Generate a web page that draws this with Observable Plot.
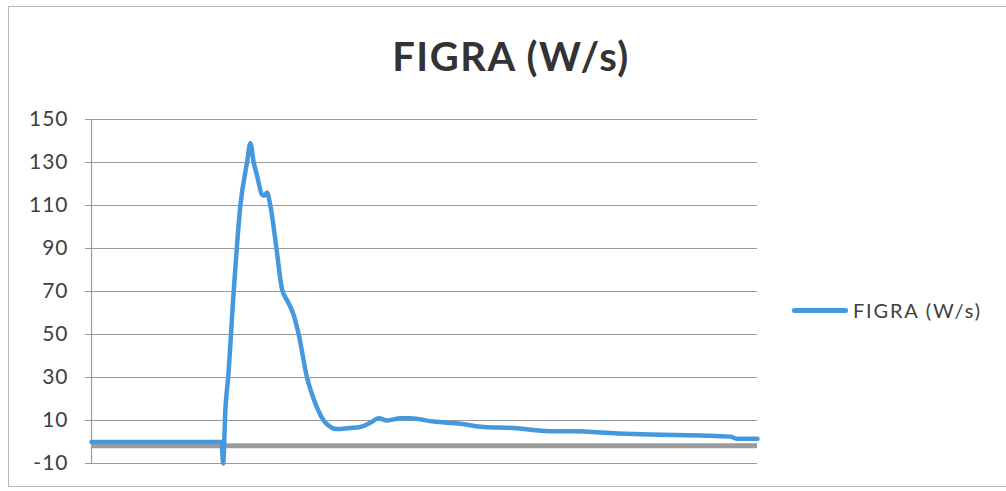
<!DOCTYPE html>
<html><head><meta charset="utf-8">
<script src="https://cdn.jsdelivr.net/npm/d3@7"></script>
<script src="https://cdn.jsdelivr.net/npm/@observablehq/plot@0.6"></script>
<style>
html,body{margin:0;padding:0;background:#fff;}
#wrap{position:relative;width:1006px;height:491px;overflow:hidden;}
#frame{position:absolute;left:8px;top:6px;width:1010px;height:481px;border:1.5px solid #b8b8b8;box-sizing:border-box;}
#title{position:absolute;left:0;top:32px;width:1022px;text-align:center;font-family:Lato,"Open Sans",sans-serif;font-weight:bold;font-size:40px;letter-spacing:1.5px;color:#333;}
#legend{position:absolute;left:792px;top:298px;font-family:Lato,"Open Sans",sans-serif;font-size:20px;letter-spacing:1.8px;color:#404040;display:flex;align-items:center;}
#legend .sw{width:56px;height:5px;background:#4499de;margin-right:5px;border-radius:2px;}
#chart{position:absolute;left:0;top:0;}
#chart svg g[aria-label="y-axis tick label"] text{letter-spacing:1px;}
</style></head>
<body><div id="wrap"><div id="frame"></div><div id="title">FIGRA (W/s)</div><div id="chart"></div>
<div id="legend"><span class="sw"></span><span>FIGRA (W/s)</span></div></div>
<script>
// time (s) and FIGRA (W/s) values
const time = [0, 234, 237, 241, 246, 256, 268, 280, 286, 292, 298, 307, 311, 316, 322, 333, 343, 354, 364, 373, 388, 400, 418, 430, 440, 464, 484, 502, 517, 532, 556, 574, 616, 664, 706, 760, 826, 868, 947, 1006, 1096, 1150, 1163, 1199];
const figra = [0, 0, -10, 15, 30, 70, 110, 130, 139, 130, 124, 115, 114.5, 116, 110, 90, 71, 65, 59, 50, 30, 20, 10, 7, 6, 6.5, 7, 9, 11, 10, 11, 11, 9.5, 8.5, 7, 6.5, 5, 5, 4, 3.5, 3, 2.5, 1.5, 1.5];
const yTicks = [-10, 10, 30, 50, 70, 90, 110, 130, 150];
const baselineValue = -1.8;
const timeDomain = [0, 1199];

const data = time.map((t, i) => ({t, v: figra[i]}));

const chart = Plot.plot({
  width: 1006, height: 491,
  marginLeft: 91, marginRight: 249, marginTop: 119, marginBottom: 28,
  style: {fontFamily: "Lato, 'Open Sans', sans-serif", fontSize: "21px", color: "#404040", background: "transparent"},
  x: {domain: timeDomain, axis: null},
  y: {domain: [-10, 150], ticks: yTicks, tickFormat: d => String(d), label: null},
  marks: [
    Plot.ruleY(yTicks, {stroke: "#9a9a9a", strokeWidth: 1.2, x1: timeDomain[0], x2: timeDomain[1]}),
    Plot.ruleX([timeDomain[0]], {stroke: "#9a9a9a", strokeWidth: 1.2}),
    Plot.ruleY([baselineValue], {stroke: "#9b9b9b", strokeWidth: 5, x1: timeDomain[0], x2: timeDomain[1]}),
    Plot.axisY({ticks: yTicks, tickFormat: d => String(d), tickSize: 6, tickPadding: 17, stroke: "#9a9a9a", fill: "#404040", fontSize: 21, label: null}),
    Plot.line(data, {x: "t", y: "v", stroke: "#4499de", strokeWidth: 4.5, strokeLinejoin: "round", strokeLinecap: "round", curve: "monotone-x"})
  ]
});
document.getElementById("chart").append(chart);
</script></body></html>
